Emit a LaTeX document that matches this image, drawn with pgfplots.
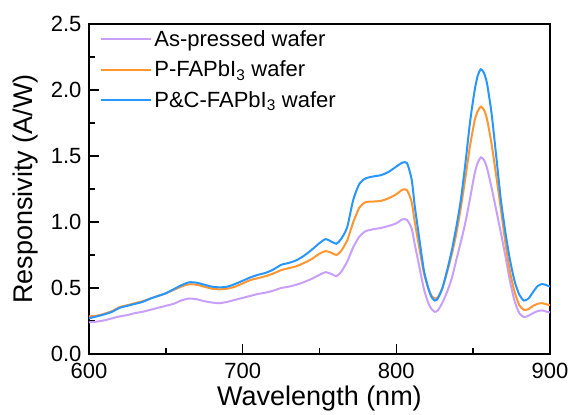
\documentclass[border=0pt]{standalone}
\usepackage{pgfplots}
\pgfplotsset{compat=1.18}
\usepackage{fontspec}
\setmainfont{Liberation Sans}
\definecolor{cpur}{RGB}{200,160,250}
\definecolor{cora}{RGB}{255,150,50}
\definecolor{cblu}{RGB}{40,150,255}
\begin{document}
\begin{tikzpicture}
\begin{axis}[
  width=461bp, height=330bp, scale only axis,
  xmin=600, xmax=900, ymin=0, ymax=2.5,
  xtick={600,700,800,900}, minor xtick={650,750,850},
  ytick={0,0.5,1,1.5,2,2.5}, minor ytick={0.25,0.75,1.25,1.75,2.25},
  yticklabel style={/pgf/number format/fixed, /pgf/number format/fixed zerofill, /pgf/number format/precision=1, xshift=-4bp},
  /pgf/number format/assume math mode=true,
  tick align=inside, tickpos=left,
  major tick length=10bp, minor tick length=6bp,
  every tick/.style={black, line width=1.5bp},
  axis line style={line width=1.5bp},
  ticklabel style={font=\fontsize{22bp}{25bp}\selectfont},
  xticklabel style={yshift=-6bp},
  xlabel={Wavelength (nm)}, ylabel={Responsivity (A/W)},
  label style={font=\fontsize{27bp}{30bp}\selectfont},
  xlabel style={yshift=0bp},
  ylabel style={yshift=6bp},
  legend style={at={(0.022,0.99)}, anchor=north west, draw=none, fill=none,
    font=\fontsize{22bp}{25bp}\selectfont, row sep=9bp, inner sep=1bp},
  legend cell align=left,
  legend image code/.code={\draw[#1] (0bp,0bp) -- (50bp,0bp);},
  every axis plot/.append style={line width=2bp, smooth, tension=0.4},
]
\addplot[cpur] coordinates {
(600,0.24)(605,0.245)(610,0.255)(615,0.27)(620,0.285)(625,0.295)(630,0.31)(635,0.32)(640,0.335)(645,0.35)
(650,0.365)(655,0.38)(660,0.405)(665,0.42)(670,0.415)(675,0.40)(680,0.39)(685,0.385)(690,0.395)(695,0.41)
(700,0.425)(705,0.44)(710,0.455)(715,0.465)(720,0.48)(725,0.50)(730,0.51)(735,0.525)(740,0.545)(745,0.57)
(750,0.60)(754,0.62)(758,0.605)(761,0.59)(764,0.62)(768,0.70)(772,0.81)(776,0.89)(780,0.93)(785,0.945)
(790,0.955)(795,0.97)(800,0.99)(804,1.02)(807,1.015)(810,0.95)(812,0.83)(815,0.66)(818,0.49)(821,0.38)
(823,0.34)(825,0.32)(827,0.33)(830,0.39)(833,0.47)(836,0.57)(839,0.71)(842,0.85)(845,1.00)(848,1.18)
(851,1.37)(853,1.45)(855,1.49)(857,1.47)(859,1.41)(862,1.26)(865,1.09)(868,0.92)(871,0.74)(874,0.55)
(877,0.40)(880,0.31)(883,0.28)(886,0.29)(889,0.31)(892,0.325)(895,0.33)(898,0.32)(900,0.315)
};
\addlegendentry{As-pressed wafer}
\addplot[cora] coordinates {
(600,0.285)(605,0.29)(610,0.305)(615,0.325)(620,0.355)(625,0.37)(630,0.385)(635,0.40)(640,0.42)(645,0.44)
(650,0.46)(655,0.485)(660,0.51)(665,0.528)(670,0.525)(675,0.51)(680,0.495)(685,0.49)(690,0.495)(695,0.51)
(700,0.535)(705,0.56)(710,0.575)(715,0.59)(720,0.61)(725,0.635)(730,0.65)(735,0.665)(740,0.69)(745,0.72)
(750,0.76)(754,0.78)(758,0.765)(761,0.75)(764,0.78)(768,0.86)(772,1.00)(776,1.11)(780,1.15)(785,1.155)
(790,1.16)(795,1.18)(800,1.21)(804,1.245)(807,1.24)(810,1.15)(812,1.0)(815,0.80)(818,0.61)(821,0.49)
(823,0.44)(825,0.42)(827,0.43)(830,0.50)(833,0.62)(836,0.75)(839,0.91)(842,1.11)(845,1.34)(848,1.58)
(851,1.77)(853,1.84)(855,1.874)(857,1.85)(859,1.78)(862,1.59)(865,1.35)(868,1.10)(871,0.84)(874,0.62)
(877,0.47)(880,0.37)(883,0.335)(886,0.34)(889,0.365)(892,0.38)(895,0.385)(898,0.375)(900,0.37)
};
\addlegendentry{P-FAPbI\textsubscript{3} wafer}
\addplot[cblu] coordinates {
(600,0.27)(605,0.285)(610,0.30)(615,0.32)(620,0.35)(625,0.365)(630,0.38)(635,0.395)(640,0.42)(645,0.44)
(650,0.46)(655,0.49)(660,0.52)(665,0.543)(670,0.54)(675,0.525)(680,0.51)(685,0.505)(690,0.51)(695,0.53)
(700,0.555)(705,0.58)(710,0.60)(715,0.615)(720,0.64)(725,0.675)(730,0.69)(735,0.71)(740,0.745)(745,0.79)
(750,0.84)(754,0.87)(758,0.85)(761,0.835)(764,0.87)(768,0.96)(772,1.17)(776,1.29)(780,1.33)(785,1.345)
(790,1.355)(795,1.38)(800,1.42)(804,1.45)(807,1.445)(810,1.32)(812,1.12)(815,0.87)(818,0.63)(821,0.49)
(823,0.43)(825,0.405)(827,0.42)(830,0.50)(833,0.63)(836,0.78)(839,0.96)(842,1.17)(845,1.45)(848,1.76)
(851,2.0)(853,2.11)(855,2.157)(857,2.13)(859,2.05)(862,1.82)(865,1.50)(868,1.17)(871,0.92)(874,0.71)
(877,0.55)(880,0.45)(883,0.405)(886,0.42)(889,0.47)(892,0.515)(895,0.53)(898,0.52)(900,0.51)
};
\addlegendentry{P\&C-FAPbI\textsubscript{3} wafer}
\end{axis}
\path (current axis.south west) ++(-89bp,-58bp);
\path (current axis.north east) ++(23bp,24bp);
\end{tikzpicture}
\end{document}
